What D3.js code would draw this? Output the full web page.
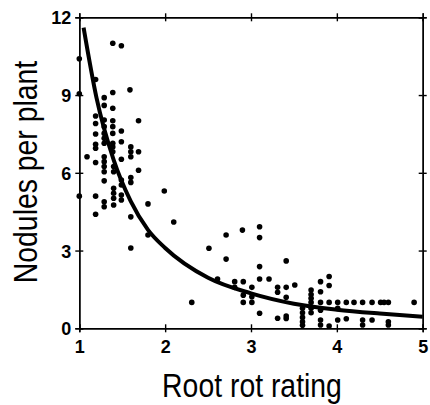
<!DOCTYPE html>
<html>
<head>
<meta charset="utf-8">
<script src="https://cdn.jsdelivr.net/npm/d3@7"></script>
<style>
  body { margin: 0; background: #fff; }
  svg { display: block; }
  .axis path, .axis line { stroke: #000; stroke-width: 1.4; }
  .axis text { font-family: "Liberation Sans", Arial, sans-serif; font-weight: bold; font-size: 18px; fill: #000; }
  .title { font-family: "Liberation Sans", Arial, sans-serif; font-size: 33px; fill: #000; }
</style>
</head>
<body>
<svg class="chart" width="430" height="405"></svg>
<script>
// scatter points
const rootRot = [
  1.0, 1.0, 1.0, 1.09,
  1.19, 1.19, 1.19, 1.19, 1.19, 1.19, 1.19, 1.19, 1.19,
  1.29, 1.29, 1.29, 1.29, 1.29, 1.29, 1.29, 1.29, 1.29, 1.29, 1.29, 1.29, 1.29, 1.29,
  1.39, 1.39, 1.39, 1.39, 1.39, 1.39, 1.39, 1.39, 1.39, 1.40, 1.40, 1.40, 1.40, 1.40, 1.40,
  1.49, 1.49, 1.49, 1.49, 1.49, 1.49, 1.49, 1.49,
  1.59, 1.60, 1.60, 1.60, 1.60, 1.60, 1.60, 1.60,
  1.69, 1.69, 1.69, 1.80, 1.80, 1.99, 2.10, 2.31,
  2.51, 2.61, 2.71, 2.71, 2.81, 2.81, 2.90, 2.91, 2.91, 2.91, 3.01, 3.01, 3.01,
  3.10, 3.10, 3.10, 3.10, 3.10, 3.21, 3.31, 3.31, 3.31, 3.41, 3.41, 3.41, 3.41, 3.41, 3.51,
  3.60, 3.60, 3.60, 3.60, 3.60,
  3.70, 3.70, 3.70, 3.70, 3.70, 3.70,
  3.81, 3.81, 3.81, 3.81, 3.81, 3.81,
  3.91, 3.91, 3.91, 3.91,
  4.01, 4.01, 4.01, 4.11, 4.11, 4.20,
  4.30, 4.30, 4.30, 4.41, 4.41,
  4.51, 4.55, 4.60, 4.60, 4.60, 4.90
];
const nodules = [
  10.4, 9.05, 5.1, 6.62,
  9.6, 8.19, 7.9, 7.5, 7.1, 6.95, 6.4, 5.1, 4.4,
  8.9, 8.6, 8.04, 7.78, 7.52, 7.33, 7.14, 6.62, 6.43, 6.24, 6.04, 5.69, 4.88, 4.69,
  11.0, 9.1, 8.49, 8.01, 7.78, 7.52, 7.14, 7.0, 6.81, 6.24, 6.04, 5.4, 5.21, 5.02, 4.76,
  10.9, 7.61, 7.2, 6.52, 5.72, 5.53, 5.14, 4.95,
  9.2, 7.0, 6.81, 6.62, 5.82, 5.63, 4.3, 3.1,
  8.01, 6.81, 6.1, 4.8, 3.6, 5.3, 4.1, 1.0,
  3.09, 1.9, 3.6, 2.67, 1.8, 1.58, 3.79, 1.8, 1.28, 1.0, 1.58, 1.22, 1.0,
  3.92, 3.5, 2.38, 1.9, 0.58, 1.9, 1.58, 1.39, 0.39, 2.6, 1.58, 1.2, 0.47, 0.38, 1.67,
  0.77, 0.6, 0.42, 0.25, 0.12,
  1.48, 1.3, 1.16, 1.0, 0.77, 0.6,
  1.8, 1.41, 1.0, 0.7, 0.32, 0.13,
  2.0, 1.65, 1.0, 0.09,
  1.0, 0.77, 0.32, 1.0, 0.37, 1.0,
  1.0, 0.32, 0.13, 1.0, 0.32,
  1.0, 1.0, 1.0, 0.25, 0.13, 1.0
];

// fitted curve
const fitX = [1.05, 1.2, 1.4, 1.6, 1.8, 2.0, 2.5, 3.0, 3.5, 4.0, 4.5, 5.0];
const fitY = [11.6, 8.9, 6.5, 4.9, 3.8, 3.1, 1.95, 1.35, 0.95, 0.72, 0.57, 0.45];

const xTicks = [1, 2, 3, 4, 5];
const yTicks = [0, 3, 6, 9, 12];

const svg = d3.select(".chart");

const mLeft = 79.3, mRight = 422.7, mTop = 17.3, mBottom = 328.3;

const x = d3.scaleLinear().domain([1, 5]).range([mLeft, mRight]);
const y = d3.scaleLinear().domain([0, 12]).range([mBottom, mTop]);

// axes with ticks crossing the frame
const addAxis = (axisFn, scale, ticks, tx, ty, cls) => {
  svg.append("g")
    .attr("class", "axis " + cls)
    .attr("transform", `translate(${tx},${ty})`)
    .call(axisFn(scale).tickValues(ticks).tickSizeOuter(0).tickSize(4).tickPadding(4)
      .tickFormat(cls ? d3.format("d") : ""));
  svg.append("g")
    .attr("class", "axis")
    .attr("transform", `translate(${tx},${ty})`)
    .call(axisFn(scale).tickValues(ticks).tickSizeOuter(0).tickSize(-4).tickFormat(""));
};

addAxis(d3.axisBottom, x, xTicks, 0, mBottom, "xaxis");
addAxis(d3.axisTop, x, xTicks, 0, mTop, "");
addAxis(d3.axisLeft, y, yTicks, mLeft, 0, "yaxis");
addAxis(d3.axisRight, y, yTicks, mRight, 0, "");

svg.selectAll(".xaxis text").attr("dy", "0.95em");
svg.selectAll(".yaxis text").attr("dy", "0.36em");

// points
svg.append("g")
  .selectAll("circle")
  .data(rootRot.map((d, i) => ({ x: d, y: nodules[i] })))
  .enter()
  .append("circle")
  .attr("cx", d => x(d.x))
  .attr("cy", d => y(d.y))
  .attr("r", 2.8)
  .style("fill", "#000");

// fitted line
svg.append("path")
  .datum(fitX.map((d, i) => ({ x: d, y: fitY[i] })))
  .attr("fill", "none")
  .attr("stroke", "#000")
  .attr("stroke-width", 4)
  .attr("d", d3.line().curve(d3.curveMonotoneX).x(d => x(d.x)).y(d => y(d.y)));

// titles (condensed look)
svg.append("text")
  .attr("class", "title")
  .attr("transform", "translate(252,397) scale(0.86,1)")
  .attr("text-anchor", "middle")
  .text("Root rot rating");

svg.append("text")
  .attr("class", "title")
  .attr("transform", "translate(37,172) rotate(-90) scale(0.86,1)")
  .attr("text-anchor", "middle")
  .text("Nodules per plant");
</script>
</body>
</html>
